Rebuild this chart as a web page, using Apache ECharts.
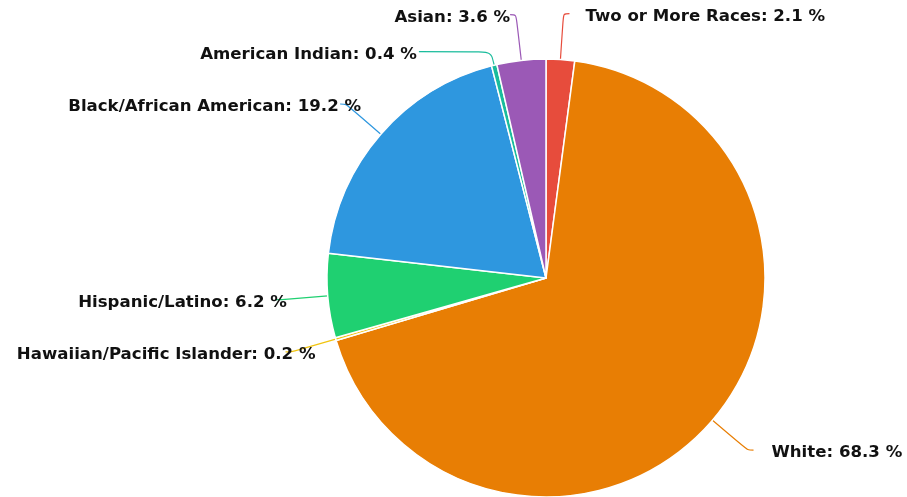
<!DOCTYPE html>
<html>
<head>
<meta charset="utf-8">
<title>Race / Ethnicity</title>
<script src="https://cdn.jsdelivr.net/npm/echarts@6/dist/echarts.min.js"></script>
<style>
  html, body { margin: 0; padding: 0; background: #fff; }
  #main { width: 907px; height: 497px; }
</style>
</head>
<body>
<div id="main"></div>
<script>
const categories = ['Two or More Races', 'White', 'Hawaiian/Pacific Islander', 'Hispanic/Latino',
  'Black/African American', 'American Indian', 'Asian']
const shares = [2.1, 68.3, 0.2, 6.2, 19.2, 0.4, 3.6]
const colors = ['#e74c3c', '#e87e04', '#f1c40f', '#1fd071', '#2e97df', '#1abc9c', '#9b59b6']

const chart = echarts.init(document.getElementById('main'))
chart.setOption({
  animation: false,
  series: [{
    type: 'pie',
    center: [546, 278],
    radius: 219,
    startAngle: 90,
    clockwise: true,
    avoidLabelOverlap: true,
    itemStyle: { borderColor: '#fff', borderWidth: 1.5 },
    label: {
      formatter: p => p.name + ': ' + p.value.toFixed(1) + ' %',
      fontFamily: 'DejaVu Sans',
      fontWeight: 'bold',
      fontSize: 16.6,
      color: '#111',
      overflow: 'none',
      edgeDistance: 4,
      distanceToLabelLine: 4
    },
    labelLine: { smooth: true, length: 46, length2: 6, lineStyle: { width: 1.2 } },
    // labels sit a little to the right of their line ends, like the original
    labelLayout: p => {
      const shift = [12, 14, 34, 15, 25, 2, 4]
      return { dx: shift[p.dataIndex], dy: 3 }
    },
    data: categories.map((c, i) => ({
      name: c,
      value: shares[i],
      itemStyle: { color: colors[i] },
      labelLine: c === 'American Indian' ? { length: 14, length2: 72 } : undefined
    }))
  }]
})
</script>
</body>
</html>
